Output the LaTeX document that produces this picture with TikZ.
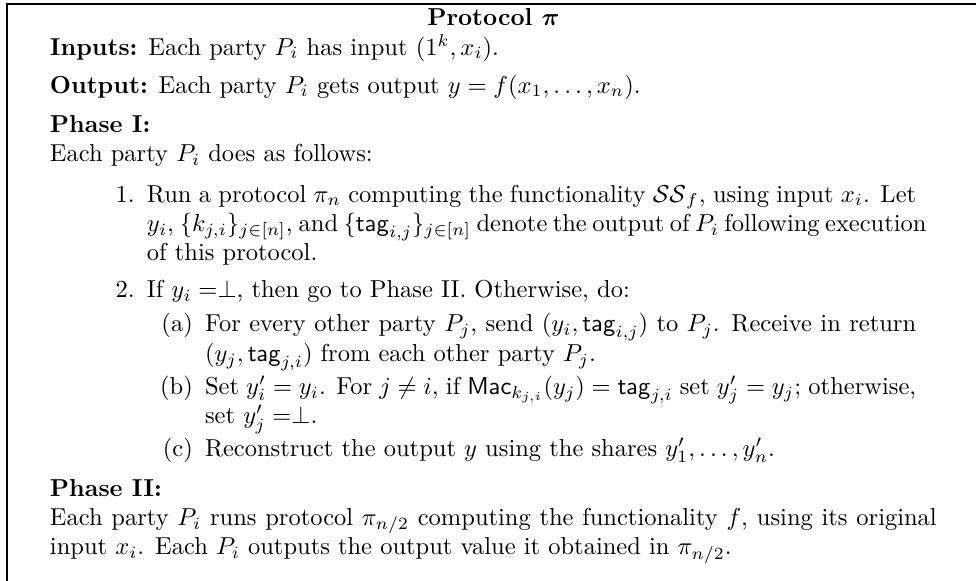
\documentclass[tikz,border=0pt]{standalone}
\usepackage{amsmath}
\newcommand{\tagf}{\mathsf{tag}}
\newcommand{\macf}{\mathsf{Mac}}
% justified line of a given width
\newcommand{\jline}[2]{\hbox to #1{#2}}
\begin{document}
\begin{tikzpicture}[x=1pt,y=1pt,
  txt/.style={anchor=base west,inner sep=0pt,outer sep=0pt},
  lab/.style={anchor=base east,inner sep=0pt,outer sep=0pt},
  frame/.style={line width=1.1pt}]
\def\W{398.4}\def\H{237.1}
\def\L{20.4}   % body text left edge
\def\Wb{362}   % body text width
\def\La{60}    % level-1 item text
\def\Wa{314}
\def\Lb{83.7}  % level-2 item text
\def\Wc{290.3}
\useasboundingbox (0,0) rectangle (\W,-\H);
% frame: top rule and left rule
\coordinate (tl) at (2.9,-1.6);
\coordinate (tr) at (\W,-1.6);
\coordinate (bl) at (2.9,-\H);
\draw[frame] (bl) -- (tl) -- (tr);
% heading
\node[anchor=base,inner sep=0pt] (title) at (\L+0.5*\Wb,-10.5) {\textbf{Protocol \boldmath$\pi$}};
\node[txt] (inputs) at (\L,-22.5) {\textbf{Inputs:} Each party $P_i$ has input $(1^k,x_i)$.};
\node[txt] (output) at (\L,-38) {\textbf{Output:} Each party $P_i$ gets output $y=f(x_1,\ldots,x_n)$.};
\node[txt] (phaseone) at (\L,-54) {\textbf{Phase I:}};
\node[txt] (phaseonetxt) at (\L,-66) {Each party $P_i$ does as follows:};
% item 1
\node[lab] (lone) at (\La-5,-82.5) {1.};
\node[txt] (ione) at (\La,-82.5) {\jline{\Wa pt}{Run a protocol $\pi_n$ computing the functionality $\mathcal{SS}_f$, using input $x_i$. Let}};
\node[txt] (ioneb) at (\La,-94.5) {\jline{\Wa pt}{$y_i$, $\{k_{j,i}\}_{j\in[n]}$, and $\{\tagf_{i,j}\}_{j\in[n]}$ denote the output of $P_i$ following execution}};
\node[txt] (ionec) at (\La,-106.5) {of this protocol.};
% item 2
\node[lab] (ltwo) at (\La-5,-121.5) {2.};
\node[txt] (itwo) at (\La,-121.5) {If $y_i=\perp$, then go to Phase II. Otherwise, do:};
\node[lab] (la) at (\Lb-5,-135.5) {(a)};
\node[txt] (ia) at (\Lb,-135.5) {\jline{\Wc pt}{For every other party $P_j$, send $(y_i,\tagf_{i,j})$ to $P_j$. Receive in return}};
\node[txt] (iab) at (\Lb,-147.5) {$(y_j,\tagf_{j,i})$ from each other party $P_j$.};
\node[lab] (lb) at (\Lb-5,-161) {(b)};
\node[txt] (ib) at (\Lb,-161) {\jline{\Wc pt}{Set $y'_i=y_i$. For $j\neq i$, if $\macf_{k_{j,i}}(y_j)=\tagf_{j,i}$ set $y'_j=y_j$; otherwise,}};
\node[txt] (ibb) at (\Lb,-173) {set $y'_j=\perp$.};
\node[lab] (lc) at (\Lb-5,-186.5) {(c)};
\node[txt] (ic) at (\Lb,-186.5) {Reconstruct the output $y$ using the shares $y'_1,\ldots,y'_n$.};
% phase II
\node[txt] (phasetwo) at (\L,-202.5) {\textbf{Phase II:}};
\node[txt] (phasetwotxt) at (\L,-214.5) {\jline{\Wb pt}{Each party $P_i$ runs protocol $\pi_{n/2}$ computing the functionality $f$, using its original}};
\node[txt] (phasetwotxtb) at (\L,-226.5) {input $x_i$. Each $P_i$ outputs the output value it obtained in $\pi_{n/2}$.};
\end{tikzpicture}
\end{document}
